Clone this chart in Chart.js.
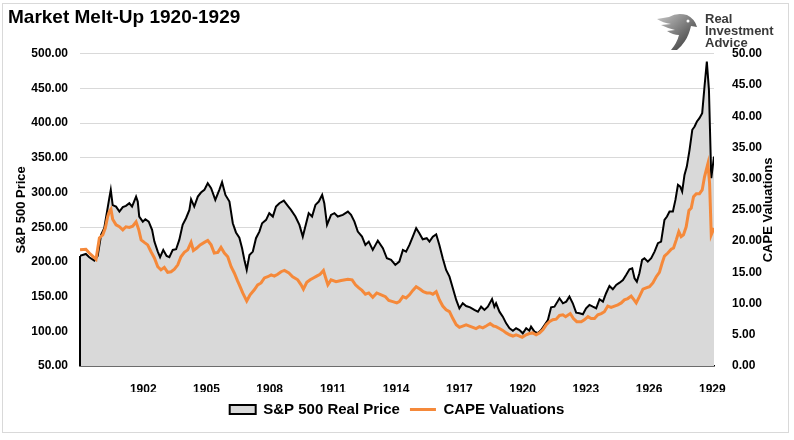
<!DOCTYPE html>
<html>
<head>
<meta charset="utf-8">
<script src="https://cdn.jsdelivr.net/npm/chart.js@4/dist/chart.umd.min.js"></script>
<style>
  body { margin: 0; background: #fff; }
  #wrap { position: relative; width: 794px; height: 440px; }
  #frame { position: absolute; left: 2px; top: 3px; width: 785px; height: 428px; border: 1px solid #D9D9D9; pointer-events: none; }
  #logo { position: absolute; left: 655px; top: 11px; }
  #logoText { position: absolute; left: 705px; top: 13px; font: bold 13px "Liberation Sans", Arial, sans-serif; line-height: 12px; color: #3a3a3a; }
</style>
</head>
<body>
<div id="wrap">
  <canvas id="myChart" width="794" height="440"></canvas>
  <div id="frame"></div>
  <svg id="logo" width="44" height="40" viewBox="0 0 44 40">
    <defs>
      <linearGradient id="g" x1="0" y1="0" x2="1" y2="1">
        <stop offset="0" stop-color="#c8c8c8"/>
        <stop offset="1" stop-color="#2e2e2e"/>
      </linearGradient>
    </defs>
    <path d="M2 8 L14 6 Q22 1 32 4 Q40 8 42 16 L36 15 Q34 24 30 30 Q26 36 22 39 L16 39 Q22 32 24 24 Q18 24 12 20 L20 19 Q12 17 6 14 L16 13 Q8 12 2 8 Z" fill="url(#g)"/>
    <circle cx="33" cy="10" r="1.5" fill="#fff"/>
  </svg>
  <div id="logoText">Real<br>Investment<br>Advice</div>
</div>
<script>
// S&P 500 real price (left axis)
var priceYears = [
  1899.00,1899.28,1899.44,1899.68,1899.84,1900.00,1900.15,1900.31,1900.39,1900.46,
  1900.55,1900.71,1900.87,1901.03,1901.18,1901.34,1901.47,1901.66,1901.74,1901.81,
  1901.98,1902.10,1902.26,1902.42,1902.53,1902.69,1902.80,1902.95,1903.11,1903.24,
  1903.40,1903.56,1903.71,1903.87,1904.03,1904.19,1904.27,1904.42,1904.59,1904.74,
  1904.90,1905.06,1905.22,1905.42,1905.61,1905.74,1905.90,1906.09,1906.25,1906.40,
  1906.56,1906.69,1906.80,1906.91,1907.04,1907.20,1907.35,1907.51,1907.64,1907.83,
  1907.98,1908.15,1908.30,1908.46,1908.67,1908.86,1909.01,1909.22,1909.41,1909.57,
  1909.73,1909.85,1910.01,1910.17,1910.33,1910.49,1910.59,1910.72,1910.91,1911.07,
  1911.23,1911.47,1911.71,1911.86,1912.02,1912.18,1912.38,1912.54,1912.70,1912.89,
  1913.13,1913.37,1913.56,1913.76,1913.96,1914.15,1914.32,1914.47,1914.63,1914.79,
  1914.95,1915.10,1915.26,1915.45,1915.58,1915.74,1915.90,1916.05,1916.21,1916.37,
  1916.53,1916.69,1916.85,1917.00,1917.16,1917.32,1917.51,1917.71,1917.88,1918.03,
  1918.19,1918.35,1918.55,1918.66,1918.74,1918.90,1919.06,1919.22,1919.38,1919.54,
  1919.69,1919.85,1920.01,1920.17,1920.32,1920.40,1920.56,1920.72,1920.88,1921.04,
  1921.20,1921.35,1921.51,1921.75,1921.91,1922.07,1922.22,1922.38,1922.54,1922.70,
  1922.86,1923.01,1923.17,1923.33,1923.49,1923.65,1923.81,1923.96,1924.12,1924.28,
  1924.44,1924.60,1924.76,1924.91,1925.07,1925.20,1925.31,1925.42,1925.54,1925.67,
  1925.78,1925.94,1926.10,1926.26,1926.42,1926.57,1926.73,1926.85,1926.97,1927.13,
  1927.25,1927.37,1927.48,1927.57,1927.68,1927.79,1927.92,1928.05,1928.16,1928.27,
  1928.39,1928.52,1928.63,1928.74,1928.84,1928.95,1929.08
];
var priceValues = [
  208.7,211.5,206.8,201.9,208.7,239.0,248.6,277.5,291.9,303.9,
  282.0,279.8,272.6,278.9,280.8,284.6,279.8,294.2,287.0,265.4,
  258.1,261.5,258.1,246.2,229.3,214.9,206.8,217.3,208.7,206.8,
  217.3,218.3,231.7,253.4,263.0,275.0,290.4,279.8,294.2,300.0,
  303.9,313.5,306.3,289.4,303.9,314.9,296.6,287.0,255.8,242.5,
  235.0,219.8,202.9,188.5,210.1,214.9,234.2,243.7,255.8,260.6,
  270.3,265.4,279.8,284.6,288.4,280.8,275.0,265.4,253.4,236.5,
  255.8,270.3,265.4,282.2,287.0,296.6,284.6,253.4,267.8,270.3,
  265.4,267.8,272.6,267.8,258.1,243.7,236.5,224.5,229.3,217.3,
  230.7,219.8,205.3,202.9,195.7,200.5,217.3,214.9,224.5,236.5,
  248.6,241.4,232.7,234.2,229.3,236.5,239.8,224.5,205.3,188.5,
  178.8,162.1,145.2,133.2,140.4,136.5,134.6,130.8,128.3,135.5,
  130.8,135.5,146.6,135.5,140.4,128.3,121.1,111.5,104.4,100.9,
  104.4,101.9,97.1,104.4,100.9,106.7,99.5,97.1,101.9,109.1,
  116.3,134.6,135.5,147.6,140.4,142.8,150.0,140.4,126.9,126.0,
  124.6,133.2,138.0,135.5,133.2,146.2,142.8,154.9,165.4,160.6,
  166.8,170.1,174.0,181.3,189.5,190.9,176.5,171.6,183.7,202.9,
  205.3,200.4,205.3,214.9,227.0,229.3,260.6,265.4,272.6,272.6,
  289.4,311.1,308.6,301.4,325.5,337.5,361.6,390.5,395.2,402.4,
  407.3,414.5,452.9,488.9,448.1,320.7,351.9
];

// CAPE valuations (right axis)
var capeYears = [
  1899.00,1899.28,1899.44,1899.60,1899.76,1899.92,1900.08,1900.20,1900.31,1900.39,
  1900.47,1900.55,1900.71,1900.87,1901.03,1901.18,1901.34,1901.50,1901.66,1901.79,
  1901.90,1902.05,1902.21,1902.37,1902.53,1902.69,1902.84,1903.00,1903.16,1903.32,
  1903.48,1903.64,1903.79,1903.95,1904.11,1904.27,1904.38,1904.54,1904.70,1904.90,
  1905.06,1905.22,1905.37,1905.54,1905.69,1905.85,1906.01,1906.17,1906.32,1906.48,
  1906.56,1906.72,1906.91,1907.07,1907.27,1907.43,1907.59,1907.75,1907.91,1908.07,
  1908.22,1908.38,1908.54,1908.70,1908.91,1909.09,1909.33,1909.49,1909.60,1909.76,
  1909.92,1910.07,1910.23,1910.39,1910.55,1910.64,1910.76,1910.91,1911.15,1911.39,
  1911.71,1911.91,1912.07,1912.23,1912.38,1912.54,1912.70,1912.89,1913.08,1913.29,
  1913.49,1913.65,1913.84,1914.03,1914.15,1914.32,1914.47,1914.63,1914.79,1914.95,
  1915.14,1915.29,1915.45,1915.61,1915.74,1915.90,1916.05,1916.21,1916.37,1916.53,
  1916.69,1916.85,1917.00,1917.16,1917.32,1917.48,1917.64,1917.79,1917.95,1918.11,
  1918.27,1918.46,1918.62,1918.74,1918.90,1919.06,1919.22,1919.38,1919.54,1919.69,
  1919.85,1919.98,1920.17,1920.32,1920.48,1920.64,1920.80,1920.96,1921.12,1921.27,
  1921.43,1921.59,1921.75,1921.91,1922.04,1922.26,1922.41,1922.57,1922.78,1922.93,
  1923.10,1923.25,1923.41,1923.57,1923.73,1923.88,1924.04,1924.20,1924.36,1924.52,
  1924.68,1924.83,1924.99,1925.15,1925.26,1925.39,1925.54,1925.71,1925.86,1926.02,
  1926.18,1926.34,1926.49,1926.62,1926.73,1926.89,1927.05,1927.16,1927.29,1927.41,
  1927.52,1927.63,1927.76,1927.89,1928.00,1928.11,1928.24,1928.39,1928.52,1928.63,
  1928.79,1928.87,1928.95,1929.08
];
var capeValues = [
  18.6,18.7,18.1,17.6,17.1,20.5,21.0,22.1,23.9,24.7,
  25.1,23.5,22.6,22.3,21.8,22.3,22.2,22.4,23.1,21.8,
  20.2,19.8,19.4,18.3,17.3,15.9,15.4,15.8,15.0,15.1,
  15.5,16.2,17.5,18.2,18.6,19.8,18.5,18.9,19.4,19.8,
  20.1,19.4,18.1,18.2,19.0,18.1,17.5,15.9,14.9,13.6,
  13.0,11.7,10.4,11.4,12.2,13.0,13.3,14.1,14.3,14.6,
  14.4,14.7,15.1,15.3,14.9,14.3,13.8,13.0,12.3,13.4,
  13.8,14.1,14.4,14.7,15.3,14.3,13.0,13.8,13.5,13.7,
  13.9,13.8,13.0,12.5,12.1,11.5,11.7,11.0,11.7,11.4,
  11.1,10.5,10.3,10.1,10.3,11.1,10.9,11.4,12.1,12.7,
  12.3,11.9,11.7,11.7,11.5,11.9,10.6,9.6,9.0,8.7,
  7.6,6.6,6.2,6.4,6.6,6.4,6.2,6.0,6.3,6.1,
  6.4,6.8,6.4,6.3,6.0,5.7,5.3,5.0,4.8,5.0,
  4.8,4.6,5.0,5.2,5.3,5.0,5.3,5.8,6.6,7.1,
  7.4,7.5,8.1,8.2,7.9,8.4,7.6,7.1,7.1,7.4,
  7.9,7.6,7.6,8.2,8.4,8.7,9.6,9.4,9.6,9.8,
  10.1,10.6,10.8,11.2,10.7,10.1,11.1,12.3,12.5,12.7,
  13.3,14.3,15.0,16.5,17.6,18.1,18.7,18.9,20.2,21.5,
  20.7,21.0,22.3,24.9,25.3,27.1,27.6,27.6,28.2,30.3,
  32.4,29.3,21.0,22.1
];

var tickYears = [1902, 1905, 1908, 1911, 1914, 1917, 1920, 1923, 1926, 1929];

var FONT = '"Liberation Sans", Arial, sans-serif';
Chart.defaults.font.family = FONT;
Chart.defaults.color = '#000';

// Excel draws the left edge of the area in the border colour,
// and the right axis title reads bottom-to-top like the left one
var extras = {
	id: 'extras',
	afterDatasetsDraw: function(chart){
		var pt = chart.getDatasetMeta(0).data[0];
		var ctx = chart.ctx;
		ctx.save();
		ctx.strokeStyle = '#000';
		ctx.lineWidth = 2;
		ctx.beginPath();
		ctx.moveTo(pt.x, chart.scales.y.bottom);
		ctx.lineTo(pt.x, pt.y);
		ctx.stroke();
		ctx.restore();
	},
	afterDraw: function(chart){
		var ctx = chart.ctx;
		var s = chart.scales.y1;
		ctx.save();
		ctx.translate(s.right - 18, (s.top + s.bottom) / 2);
		ctx.rotate(-Math.PI / 2);
		ctx.font = 'bold 13px ' + FONT;
		ctx.fillStyle = '#000';
		ctx.textAlign = 'center';
		ctx.textBaseline = 'middle';
		ctx.fillText('CAPE Valuations', 0, 0);
		ctx.restore();
	}
};

var ctx = document.getElementById('myChart');
var myChart = new Chart(ctx, {
	type: 'line',
	data: {
		datasets: [{
			label: 'S&P 500 Real Price',
			data: priceYears.map(function(y, i){ return {x: y, y: priceValues[i]}; }),
			yAxisID: 'y',
			borderColor: '#000',
			backgroundColor: '#D9D9D9',
			borderWidth: 2,
			fill: 'start',
			pointRadius: 0,
			pointStyle: 'rect',
			tension: 0,
			order: 2
		}, {
			label: 'CAPE Valuations',
			data: capeYears.map(function(y, i){ return {x: y, y: capeValues[i]}; }),
			yAxisID: 'y1',
			borderColor: '#F5893A',
			backgroundColor: '#F5893A',
			borderWidth: 3,
			fill: false,
			pointRadius: 0,
			pointStyle: 'line',
			tension: 0,
			order: 1
		}]
	},
	options: {
		responsive: false,
		animation: false,
		layout: { padding: { left: 8, right: 8, top: 0, bottom: 13 } },
		scales: {
			x: {
				type: 'linear',
				min: 1899,
				max: 1929.08,
				afterBuildTicks: function(s){ s.ticks = tickYears.map(function(v){ return {value: v}; }); },
				afterFit: function(s){ s.height = 26; },
				ticks: {
					autoSkip: false, maxRotation: 0, padding: 8,
					font: { size: 12, weight: 'bold' },
					callback: function(v){ return String(v); }
				},
				grid: { display: false },
				border: { display: true, color: '#000', width: 1.5 }
			},
			y: {
				position: 'left',
				min: 50, max: 500,
				afterFit: function(s){ s.width = 72; },
				ticks: {
					stepSize: 50, padding: 12,
					font: { size: 12, weight: 'bold' },
					callback: function(v){ return v.toFixed(2); }
				},
				grid: { color: '#D9D9D9', drawTicks: false },
				border: { display: false },
				title: { display: true, text: 'S&P 500 Price', font: { size: 13, weight: 'bold' }, padding: { top: 6, bottom: 0 } }
			},
			y1: {
				position: 'right',
				min: 0, max: 50,
				afterFit: function(s){ s.width = 72; },
				ticks: {
					stepSize: 5, padding: 10,
					font: { size: 12, weight: 'bold' },
					callback: function(v){ return v.toFixed(2); }
				},
				grid: { display: false },
				border: { display: false }
			}
		},
		plugins: {
			title: {
				display: true,
				text: 'Market Melt-Up 1920-1929',
				align: 'start',
				font: { size: 19, weight: 'bold' },
				padding: { top: 6, bottom: 25 }
			},
			legend: {
				position: 'bottom',
				labels: {
					usePointStyle: true,
					pointStyleWidth: 26,
					boxHeight: 9,
					padding: 10,
					font: { size: 15, weight: 'bold' },
					sort: function(a, b){ return a.datasetIndex - b.datasetIndex; }
				}
			},
			tooltip: { enabled: false }
		}
	},
	plugins: [extras]
});
</script>
</body>
</html>
